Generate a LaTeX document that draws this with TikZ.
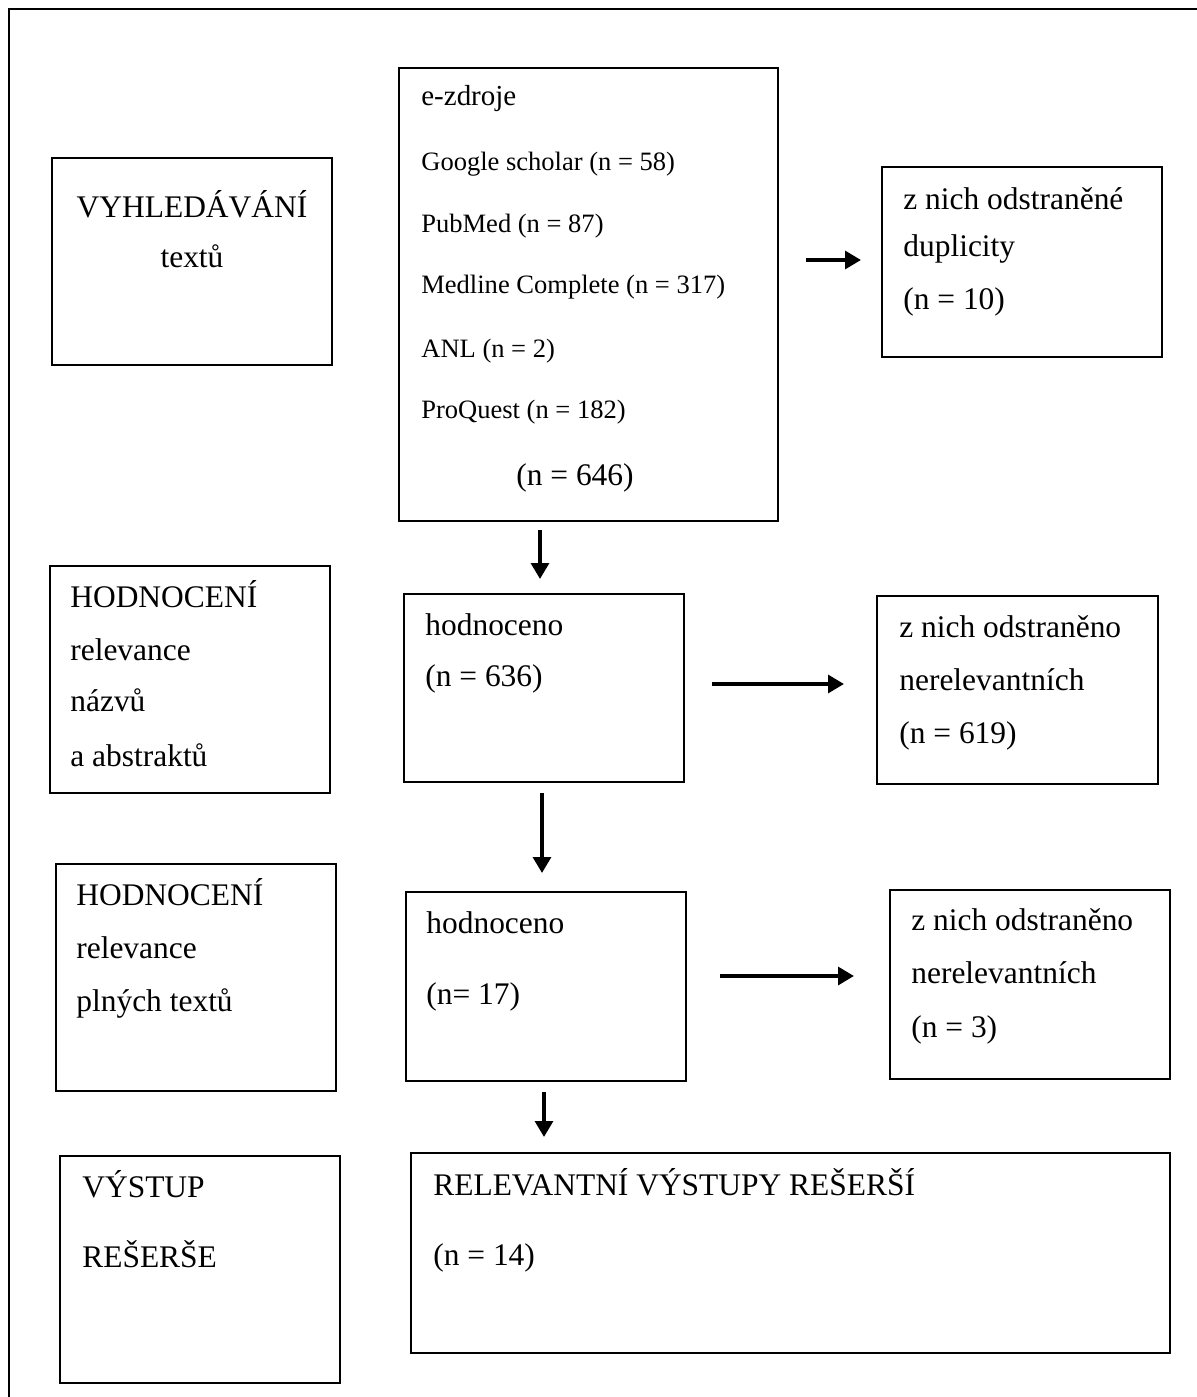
\documentclass[tikz,border=0pt]{standalone}
\usepackage{fontspec}
\setmainfont{Liberation Serif}
\usetikzlibrary{arrows.meta,positioning,fit}

\tikzset{
box/.style={draw, line width=1.5pt, inner sep=0pt},
lab/.style={anchor=base west, inner sep=0pt, font=\fontsize{17.9}{21}\selectfont},
item/.style={lab, font=\fontsize{15.1}{18}\selectfont},
arr/.style={line width=2.2pt, -{Triangle[length=9pt,width=10pt]}}
}

\begin{document}
\begin{tikzpicture}[x=0.02cm,y=-0.02cm]
\useasboundingbox (0,0) rectangle (1197,1397);
\draw[line width=1.7pt] (9,1400) -- (9,9) -- (1200,9);

% boxes
\node (search) [box, fit={(52,158) (332,365)}] {};
\node (src) [box, fit={(399,68) (778,521)}] {};
\node (dup) [box, fit={(882,167) (1162,357)}] {};
\node (rel1) [box, fit={(50,566) (330,793)}] {};
\node (eval1) [box, fit={(404,594) (684,782)}] {};
\node (excl1) [box, fit={(877,596) (1158,784)}] {};
\node (rel2) [box, fit={(56,864) (336,1091)}] {};
\node (eval2) [box, fit={(406,892) (686,1081)}] {};
\node (excl2) [box, fit={(890,890) (1170,1079)}] {};
\node (out) [box, fit={(60,1156) (340,1383)}] {};
\node (res) [box, fit={(411,1153) (1170,1353)}] {};

% texts
\node (search-1) [lab, anchor=base] at (192,217) {VYHLEDÁVÁNÍ};
\node (search-2) [lab, anchor=base] at (192,267) {textů};

\node (src-0) [lab, font=\fontsize{16.5}{20}\selectfont] at (421,105) {e-zdroje};
\foreach \y/\t [count=\i] in {170/Google scholar (n = 58), 232/PubMed (n = 87),
  293/Medline Complete (n = 317), 357/ANL (n = 2), 418/ProQuest (n = 182)} {
\node (src-\i) [item] at (421,\y) {\t};
}
\node (src-sum) [lab] at (516,485) {(n = 646)};

\node (dup-1) [lab] at (903,209) {z nich odstraněné};
\node (dup-2) [lab] at (903,256) {duplicity};
\node (dup-3) [lab] at (903,309) {(n = 10)};

\node (rel1-1) [lab] at (70,607) {HODNOCENÍ};
\node (rel1-2) [lab] at (70,660) {relevance};
\node (rel1-3) [lab] at (70,711) {názvů};
\node (rel1-4) [lab] at (70,766) {a abstraktů};

\node (eval1-1) [lab] at (425,635) {hodnoceno};
\node (eval1-2) [lab] at (425,686) {(n = 636)};

\node (excl1-1) [lab] at (899,637) {z nich odstraněno};
\node (excl1-2) [lab] at (899,690) {nerelevantních};
\node (excl1-3) [lab] at (899,743) {(n = 619)};

\node (rel2-1) [lab] at (76,905) {HODNOCENÍ};
\node (rel2-2) [lab] at (76,958) {relevance};
\node (rel2-3) [lab] at (76,1011) {plných textů};

\node (eval2-1) [lab] at (426,933) {hodnoceno};
\node (eval2-2) [lab] at (426,1004) {(n= 17)};

\node (excl2-1) [lab] at (911,930) {z nich odstraněno};
\node (excl2-2) [lab] at (911,983) {nerelevantních};
\node (excl2-3) [lab] at (911,1037) {(n = 3)};

\node (out-1) [lab] at (82,1197) {VÝSTUP};
\node (out-2) [lab] at (82,1267) {REŠERŠE};

\node (res-1) [lab] at (433,1195) {RELEVANTNÍ VÝSTUPY REŠERŠÍ};
\node (res-2) [lab] at (433,1265) {(n = 14)};

% arrows
\coordinate (a1) at (806,260);  \coordinate (b1) at (861,260);
\coordinate (a2) at (540,530);  \coordinate (b2) at (540,579);
\coordinate (a3) at (712,684);  \coordinate (b3) at (844,684);
\coordinate (a4) at (542,793);  \coordinate (b4) at (542,873);
\coordinate (a5) at (720,976);  \coordinate (b5) at (854,976);
\coordinate (a6) at (544,1092); \coordinate (b6) at (544,1137);

\foreach \i in {1,...,6} {
\draw[arr] (a\i) -- (b\i);
}
\end{tikzpicture}
\end{document}
